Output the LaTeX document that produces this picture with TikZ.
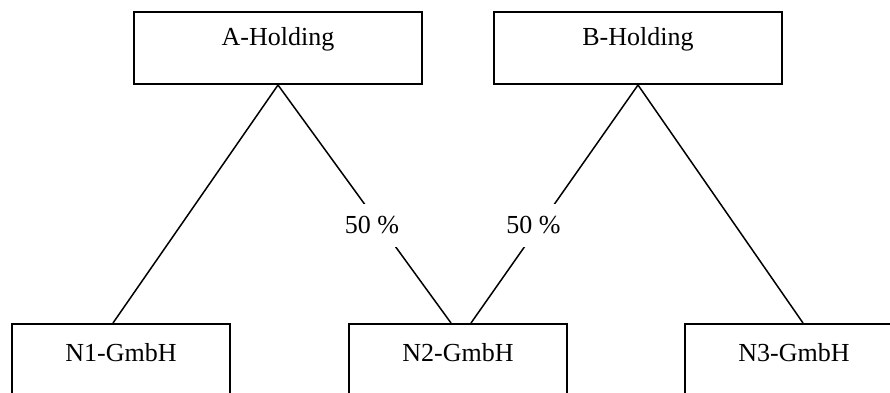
\documentclass[tikz,border=0pt]{standalone}
\usepackage{fontspec}
\setmainfont{Liberation Serif}
\usetikzlibrary{positioning}
\tikzset{holding/.style={draw,line width=2pt,minimum width=288pt,text height=18pt,text depth=24pt,inner ysep=15pt},
  gmbh/.style={draw,line width=2pt,minimum width=218pt,text height=18pt,text depth=34pt,inner ysep=19pt},
  share/.style={fill=white,inner xsep=4pt,inner ysep=13pt}}

\begin{document}
\begin{tikzpicture}[x=1pt, y=-1pt, font=\fontsize{26}{31}\selectfont, line width=1.5pt]
    \useasboundingbox (0,0) rectangle (890,392);
    \clip (0,0) rectangle (890,392);
    % holdings
    \node[holding, anchor=north] (a) at (278,11) {A-Holding};
    \node[holding, right=70pt of a] (b) {B-Holding};
    % subsidiaries
    \node[gmbh, anchor=north] (n1) at (121,323) {N1-GmbH};
    \node[gmbh, right=117pt of n1] (n2) {N2-GmbH};
    \node[gmbh, right=116pt of n2] (n3) {N3-GmbH};
    \draw (a.south) -- ([xshift=-8pt]n1.north);
    \draw (a.south) -- ([xshift=-7pt]n2.north) node[share, pos=0.59, xshift=-8pt] {50 \%};

    \draw (b.south) -- ([xshift=13pt]n2.north) node[share, pos=0.59, xshift=-6pt] {50 \%};
    \draw (b.south) -- ([xshift=9pt]n3.north);
\end{tikzpicture}
\end{document}
